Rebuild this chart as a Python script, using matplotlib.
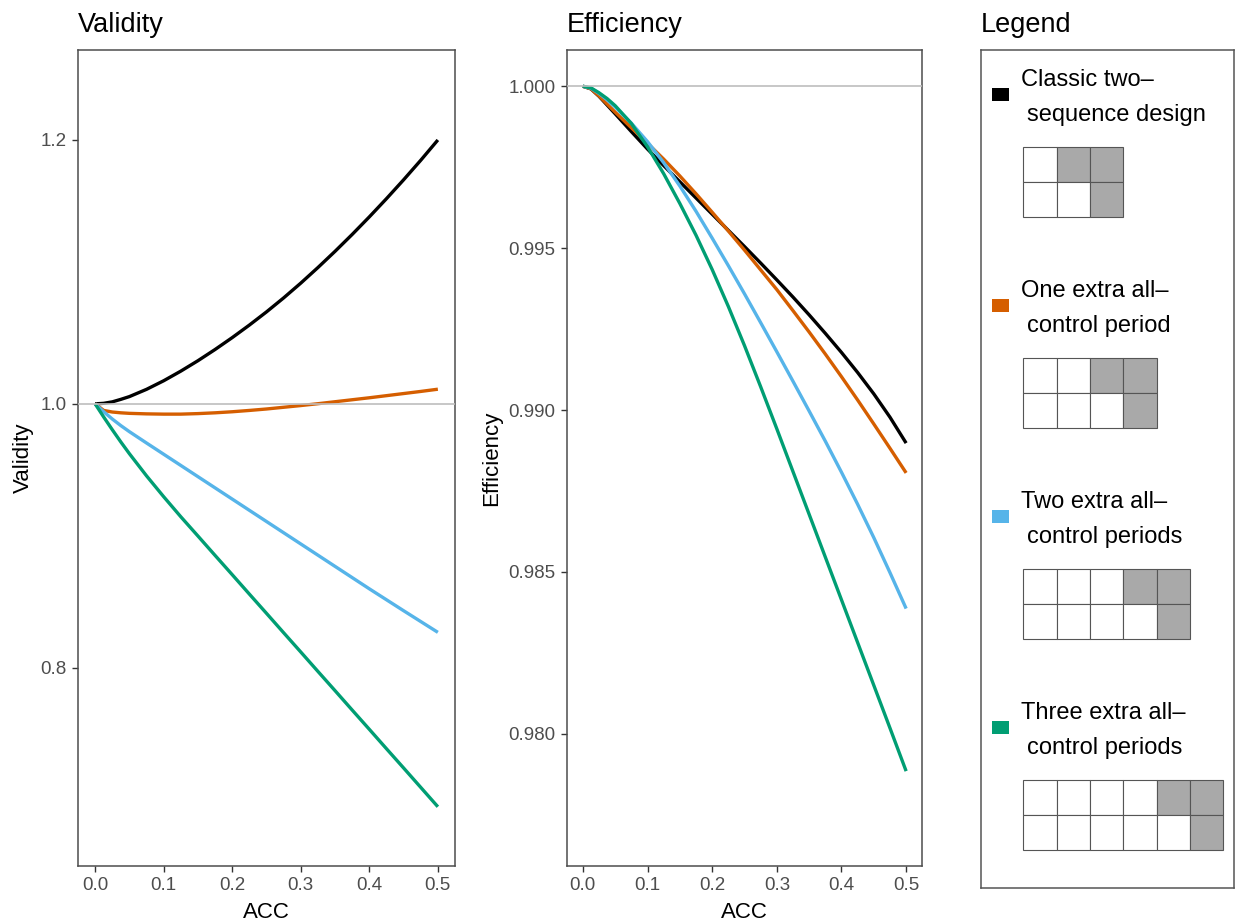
import matplotlib
matplotlib.use("Agg")
import matplotlib.pyplot as plt
from matplotlib.patches import Rectangle

plt.rcParams['font.family'] = ['Liberation Sans', 'DejaVu Sans']

# ---------------- data ----------------
acc = [0.0000, 0.0125, 0.0250, 0.0375, 0.0500, 0.075, 0.100, 0.125, 0.150, 0.175, 0.200, 0.225,
       0.250, 0.275, 0.300, 0.325, 0.350, 0.375, 0.400, 0.425, 0.450, 0.475, 0.500]

validity_classic = [1.0000, 1.0004, 1.0015, 1.0034, 1.0055, 1.0110, 1.0175, 1.0248, 1.0327, 1.0412, 1.0502, 1.0597,
                    1.0697, 1.0803, 1.0915, 1.1033, 1.1156, 1.1284, 1.1417, 1.1555, 1.1698, 1.1846, 1.2000]
validity_one = [1.0000, 0.9950, 0.9938, 0.9932, 0.9928, 0.9924, 0.9922, 0.9922, 0.9926, 0.9932, 0.9940, 0.9950,
                0.9961, 0.9974, 0.9987, 1.0001, 1.0016, 1.0031, 1.0046, 1.0062, 1.0078, 1.0094, 1.0111]
validity_two = [1.0000, 0.9940, 0.9885, 0.9835, 0.9789, 0.9703, 0.9618, 0.9533, 0.9448, 0.9363, 0.9278, 0.9193,
                0.9108, 0.9023, 0.8938, 0.8853, 0.8768, 0.8683, 0.8598, 0.8515, 0.8432, 0.8350, 0.8268]
validity_three = [1.0000, 0.9900, 0.9804, 0.9711, 0.9622, 0.9454, 0.9296, 0.9144, 0.8998, 0.8851, 0.8705, 0.8558,
                  0.8412, 0.8265, 0.8119, 0.7972, 0.7826, 0.7679, 0.7533, 0.7386, 0.7240, 0.7093, 0.6946]

efficiency_classic = [1.00000, 0.99992, 0.99969, 0.99942, 0.99915, 0.99860, 0.99806, 0.99755, 0.99705, 0.99655,
                      0.99605, 0.99555, 0.99505, 0.99454, 0.99402, 0.99349, 0.99294, 0.99237, 0.99178, 0.99116,
                      0.99050, 0.98978, 0.98898]
efficiency_one = [1.00000, 0.99992, 0.99970, 0.99945, 0.99920, 0.99872, 0.99824, 0.99775, 0.99723, 0.99668,
                  0.99611, 0.99553, 0.99494, 0.99433, 0.99372, 0.99307, 0.99241, 0.99173, 0.99103, 0.99031,
                  0.98957, 0.98882, 0.98806]
efficiency_two = [1.00000, 0.99994, 0.99978, 0.99958, 0.99936, 0.99886, 0.99829, 0.99764, 0.99692, 0.99614,
                  0.99531, 0.99446, 0.99359, 0.99270, 0.99180, 0.99089, 0.98997, 0.98904, 0.98808, 0.98709,
                  0.98606, 0.98498, 0.98387]
efficiency_three = [1.00000, 0.99995, 0.99980, 0.99962, 0.99940, 0.99885, 0.99813, 0.99730, 0.99638, 0.99540,
                    0.99434, 0.99320, 0.99199, 0.99072, 0.98942, 0.98810, 0.98678, 0.98546, 0.98414, 0.98282,
                    0.98150, 0.98018, 0.97885]

series_line1 = ["Classic two–", "One extra all–", "Two extra all–", "Three extra all–"]
series_line2 = ["sequence design", "control period", "control periods", "control periods"]
series_colors = ["#000000", "#D55E00", "#56B4E9", "#009E73"]

# design diagrams (1 = intervention, 0 = control)
designs = [
    [[0, 1, 1], [0, 0, 1]],
    [[0, 0, 1, 1], [0, 0, 0, 1]],
    [[0, 0, 0, 1, 1], [0, 0, 0, 0, 1]],
    [[0, 0, 0, 0, 1, 1], [0, 0, 0, 0, 0, 1]],
]

x_ticks = [0.0, 0.1, 0.2, 0.3, 0.4, 0.5]
x_ticklabels = ["0.0", "0.1", "0.2", "0.3", "0.4", "0.5"]
val_ticks = [0.8, 1.0, 1.2]
val_ticklabels = ["0.8", "1.0", "1.2"]
eff_ticks = [0.980, 0.985, 0.990, 0.995, 1.000]
eff_ticklabels = ["0.980", "0.985", "0.990", "0.995", "1.000"]

validity_series = [validity_classic, validity_one, validity_two, validity_three]
efficiency_series = [efficiency_classic, efficiency_one, efficiency_two, efficiency_three]

# ---------------- layout (pixels) ----------------
W, H = 1235, 923
fig = plt.figure(figsize=(W / 100, H / 100), dpi=100)
fig.patch.set_facecolor("white")

AX_TOP, AX_BOT = 50.0, 866.0
TITLE_FS = 19.5
panels = [
    dict(l=78.0, r=455.0, title="Validity", ylabel="Validity", ylabel_x=23.0,
         series=validity_series, ylim=(0.6497, 1.2682), ticks=val_ticks, ticklabels=val_ticklabels),
    dict(l=566.7, r=922.3, title="Efficiency", ylabel="Efficiency", ylabel_x=492.0,
         series=efficiency_series, ylim=(0.97592, 1.00112), ticks=eff_ticks, ticklabels=eff_ticklabels),
]

BORDER = "#4D4D4D"
for p in panels:
    ax = fig.add_axes([p["l"] / W, 1 - AX_BOT / H, (p["r"] - p["l"]) / W, (AX_BOT - AX_TOP) / H])
    for vals, col in zip(p["series"], series_colors):
        ax.plot(acc, vals, color=col, lw=2.4, solid_capstyle="butt", solid_joinstyle="round", zorder=3)
    ax.axhline(1.0, color="#BEBEBE", lw=1.2, zorder=5)
    ax.set_xlim(-0.025, 0.525)
    ax.set_ylim(*p["ylim"])
    ax.set_xticks(x_ticks)
    ax.set_xticklabels(x_ticklabels)
    ax.set_yticks(p["ticks"])
    ax.set_yticklabels(p["ticklabels"])
    ax.tick_params(direction="out", length=4.5, width=1.0, color="#333333",
                   labelcolor="#4D4D4D", labelsize=13.5, pad=3.5)
    for s in ax.spines.values():
        s.set_color(BORDER)
        s.set_linewidth(1.1)
    fig.text(p["l"] / W, 1 - 31.7 / H, p["title"], fontsize=TITLE_FS, ha="left", va="baseline", color="black")
    fig.text((p["l"] + p["r"]) / 2 / W, 1 - 918.0 / H, "ACC", fontsize=16, ha="center", va="baseline")
    fig.text(p["ylabel_x"] / W, 1 - (AX_TOP + AX_BOT) / 2 / H, p["ylabel"], fontsize=16,
             rotation=90, ha="center", va="center")

# ---------------- legend panel ----------------
LEG_L, LEG_R, LEG_T, LEG_B = 980.7, 1234.0, 50.0, 887.7
lax = fig.add_axes([LEG_L / W, 1 - LEG_B / H, (LEG_R - LEG_L) / W, (LEG_B - LEG_T) / H])
lax.set_xlim(LEG_L, LEG_R)
lax.set_ylim(LEG_B, LEG_T)
lax.set_xticks([])
lax.set_yticks([])
for s in lax.spines.values():
    s.set_color("#555555")
    s.set_linewidth(1.1)
fig.text(LEG_L / W, 1 - 31.7 / H, "Legend", fontsize=TITLE_FS, ha="left", va="baseline")

STEP = 211.0
CELL_W, CELL_H = 33.33, 35.0
for k, (t1, t2, col, des) in enumerate(zip(series_line1, series_line2, series_colors, designs)):
    off = STEP * k
    lax.add_patch(Rectangle((991.7, 87.7 + off), 17.0, 13.6, facecolor=col, edgecolor="none"))
    lax.text(1020.7, 86.0 + off, t1, fontsize=17, ha="left", va="baseline")
    lax.text(1027.3, 121.0 + off, t2, fontsize=17, ha="left", va="baseline")
    for r, row in enumerate(des):
        for c, v in enumerate(row):
            lax.add_patch(Rectangle((1023.3 + c * CELL_W, 147.3 + off + r * CELL_H), CELL_W, CELL_H,
                                    facecolor="#A9A9A9" if v else "white",
                                    edgecolor="#555555", lw=0.8))

fig.savefig("out.png", dpi=100)
